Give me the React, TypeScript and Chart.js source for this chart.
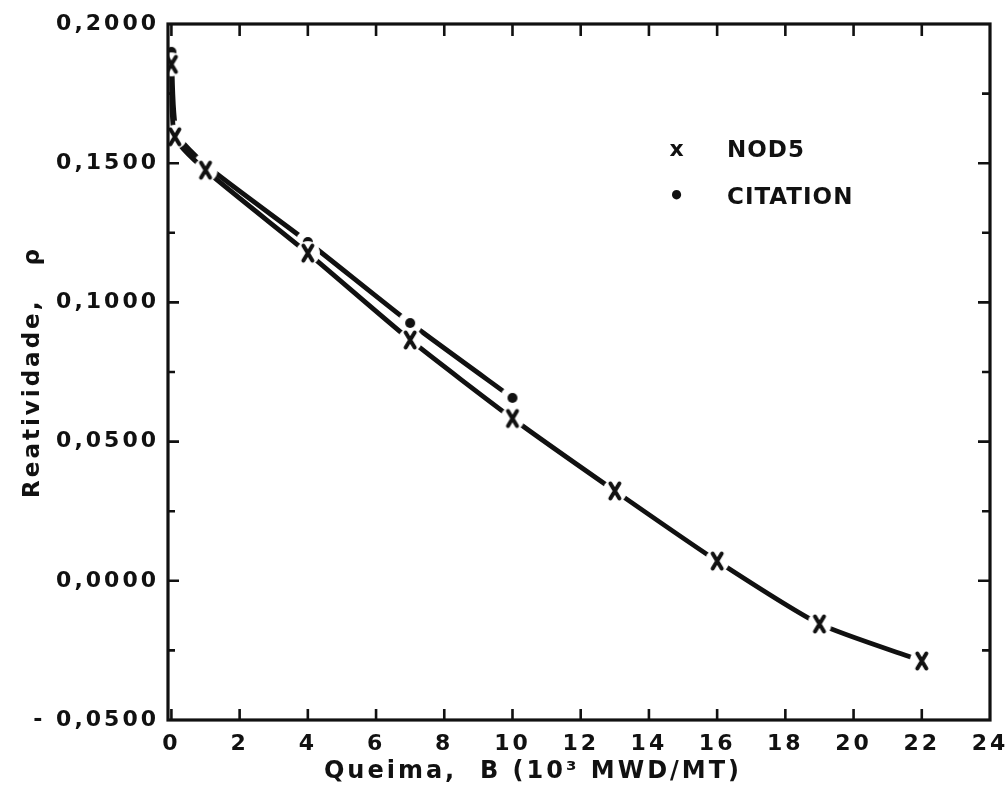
import { useEffect, useRef } from "react";
import { Chart, registerables } from "chart.js";

Chart.register(...registerables);

// Burnup (10^3 MWD/MT) and reactivity for the two codes
const nod5Burnup = [0, 0.1, 1, 4, 7, 10, 13, 16, 19, 22];
const nod5Reactivity = [0.1855, 0.1595, 0.1475, 0.1177, 0.0865, 0.0583, 0.0323, 0.0071, -0.0155, -0.0288];
const citationBurnup = [0, 0.15, 1, 4, 7, 10];
const citationReactivity = [0.19, 0.161, 0.1494, 0.1217, 0.0926, 0.0657];

const seriesNames = ["NOD5", "CITATION"];
const legendGlyphs = ["x", "•"];

const xTickValues = [0, 2, 4, 6, 8, 10, 12, 14, 16, 18, 20, 22, 24];
const yTickValues = [-0.05, 0, 0.05, 0.1, 0.15, 0.2];
const yMinorTickValues = [-0.025, 0.025, 0.075, 0.125, 0.175];

const xTitle = "Queima,  B (10³ MWD/MT)";
const yTitle = "Reatividade,   ρ";

const INK = "#111111";
const FONT = '"DejaVu Sans", "Liberation Sans", sans-serif';

function makeMarker(kind: "cross" | "dot"): HTMLCanvasElement {
  const c = document.createElement("canvas");
  c.width = 26;
  c.height = 26;
  const g = c.getContext("2d")!;
  // white halo leaves a small gap in the curve around each symbol
  g.fillStyle = "#ffffff";
  g.beginPath();
  g.arc(13, 13, 12, 0, Math.PI * 2);
  g.fill();
  g.fillStyle = INK;
  g.strokeStyle = INK;
  if (kind === "cross") {
    g.lineWidth = 4;
    g.lineCap = "round";
    g.beginPath();
    g.moveTo(8.5, 5.5);
    g.lineTo(17.5, 20.5);
    g.moveTo(17.5, 5.5);
    g.lineTo(8.5, 20.5);
    g.stroke();
  } else {
    g.beginPath();
    g.arc(13, 13, 5, 0, Math.PI * 2);
    g.fill();
  }
  return c;
}

const textSpacing = {
  id: "textSpacing",
  beforeDraw(chart: any) {
    chart.ctx.letterSpacing = "3px";
  },
};

const frameAndTicks = {
  id: "frameAndTicks",
  afterDatasetsDraw(chart: any) {
    const { ctx, chartArea, scales } = chart;
    const { left, right, top, bottom } = chartArea;
    const x = scales.x;
    const y = scales.y;
    ctx.save();
    ctx.strokeStyle = INK;
    ctx.lineWidth = 3.2;
    ctx.lineJoin = "miter";
    ctx.strokeRect(left, top, right - left, bottom - top);
    ctx.lineWidth = 2.6;
    ctx.beginPath();
    for (const v of xTickValues) {
      const px = x.getPixelForValue(v);
      if (px <= left + 2 || px >= right - 2) continue;
      ctx.moveTo(px, bottom);
      ctx.lineTo(px, bottom - 11);
      ctx.moveTo(px, top);
      ctx.lineTo(px, top + 12);
    }
    for (const v of yTickValues) {
      const py = y.getPixelForValue(v);
      if (py <= top + 2 || py >= bottom - 2) continue;
      ctx.moveTo(left, py);
      ctx.lineTo(left + 11, py);
      ctx.moveTo(right, py);
      ctx.lineTo(right - 12, py);
    }
    for (const v of yMinorTickValues) {
      const py = y.getPixelForValue(v);
      ctx.moveTo(left, py);
      ctx.lineTo(left + 7, py);
      ctx.moveTo(right, py);
      ctx.lineTo(right - 8, py);
    }
    ctx.stroke();
    ctx.restore();
  },
};

// Inset legend and the horizontal axis title
const annotations = {
  id: "annotations",
  afterDraw(chart: any) {
    const { ctx, chartArea } = chart;
    const { left, top, bottom } = chartArea;
    ctx.save();
    ctx.fillStyle = INK;
    ctx.letterSpacing = "1px";
    ctx.textBaseline = "middle";
    seriesNames.forEach((name, i) => {
      const rowY = top + 127 + i * 47;
      ctx.textAlign = "center";
      ctx.font = `bold ${i === 0 ? 22 : 26}px ${FONT}`;
      ctx.fillText(legendGlyphs[i], left + 509, rowY - (i === 0 ? 1 : 0));
      ctx.textAlign = "left";
      ctx.font = `bold 23px ${FONT}`;
      ctx.fillText(name, left + 559, rowY);
    });
    ctx.letterSpacing = "3px";
    ctx.textAlign = "center";
    ctx.font = `bold 24px ${FONT}`;
    ctx.fillText(xTitle, left + 365, bottom + 52);
    ctx.restore();
  },
};

function formatReactivity(v: number): string {
  const s = Math.abs(v).toFixed(4).replace(".", ",");
  return v < 0 ? "- " + s : s;
}

export default function App() {
  const canvasRef = useRef<HTMLCanvasElement | null>(null);

  useEffect(() => {
    const canvas = canvasRef.current;
    if (!canvas) return;
    const crossImg = makeMarker("cross");
    const dotImg = makeMarker("dot");

    const chart = new Chart(canvas, {
      type: "line",
      data: {
        datasets: [
          {
            label: seriesNames[0],
            data: nod5Burnup.map((b, i) => ({ x: b, y: nod5Reactivity[i] })),
            borderColor: INK,
            borderWidth: 4.8,
            borderCapStyle: "round",
            tension: 0.2,
            pointStyle: crossImg as any,
            pointRadius: 6,
            fill: false,
          },
          {
            label: seriesNames[1],
            data: citationBurnup.map((b, i) => ({ x: b, y: citationReactivity[i] })),
            borderColor: INK,
            borderWidth: 4.8,
            borderCapStyle: "round",
            tension: 0.2,
            pointStyle: dotImg as any,
            pointRadius: 6,
            fill: false,
          },
        ],
      },
      options: {
        animation: false,
        responsive: true,
        maintainAspectRatio: false,
        layout: { padding: { top: 24, right: 17, left: 0, bottom: 0 } },
        plugins: {
          legend: { display: false },
          tooltip: { enabled: false },
        },
        scales: {
          x: {
            type: "linear",
            min: -0.1,
            max: 24,
            afterBuildTicks: (s: any) => {
              s.ticks = xTickValues.map((v) => ({ value: v }));
            },
            afterFit: (s: any) => {
              s.height = 81;
              s.paddingLeft = 0;
              s.paddingRight = 0;
            },
            grid: { display: false, drawTicks: false },
            border: { display: false },
            ticks: {
              color: INK,
              font: { family: FONT, weight: "bold", size: 22 },
              padding: 11,
              maxRotation: 0,
              autoSkip: false,
              callback: (v: any) => String(v),
            },
            title: { display: false },
          },
          y: {
            type: "linear",
            min: -0.05,
            max: 0.2,
            afterBuildTicks: (s: any) => {
              s.ticks = yTickValues.map((v) => ({ value: v }));
            },
            afterFit: (s: any) => {
              s.width = 168;
              s.paddingTop = 0;
              s.paddingBottom = 0;
            },
            grid: { display: false, drawTicks: false },
            border: { display: false },
            ticks: {
              color: INK,
              font: { family: FONT, weight: "bold", size: 22 },
              padding: 9,
              autoSkip: false,
              callback: (v: any) => formatReactivity(Number(v)),
            },
            title: {
              display: true,
              text: yTitle,
              color: INK,
              font: { family: FONT, weight: "bold", size: 23 },
              padding: { top: 19, bottom: 0 },
            },
          },
        },
      },
      plugins: [textSpacing, frameAndTicks, annotations],
    } as any);

    return () => chart.destroy();
  }, []);

  return (
    <div
      style={{
        position: "fixed",
        left: 0,
        top: 0,
        width: 1007,
        height: 801,
        background: "#ffffff",
      }}
    >
      <canvas ref={canvasRef} />
    </div>
  );
}
